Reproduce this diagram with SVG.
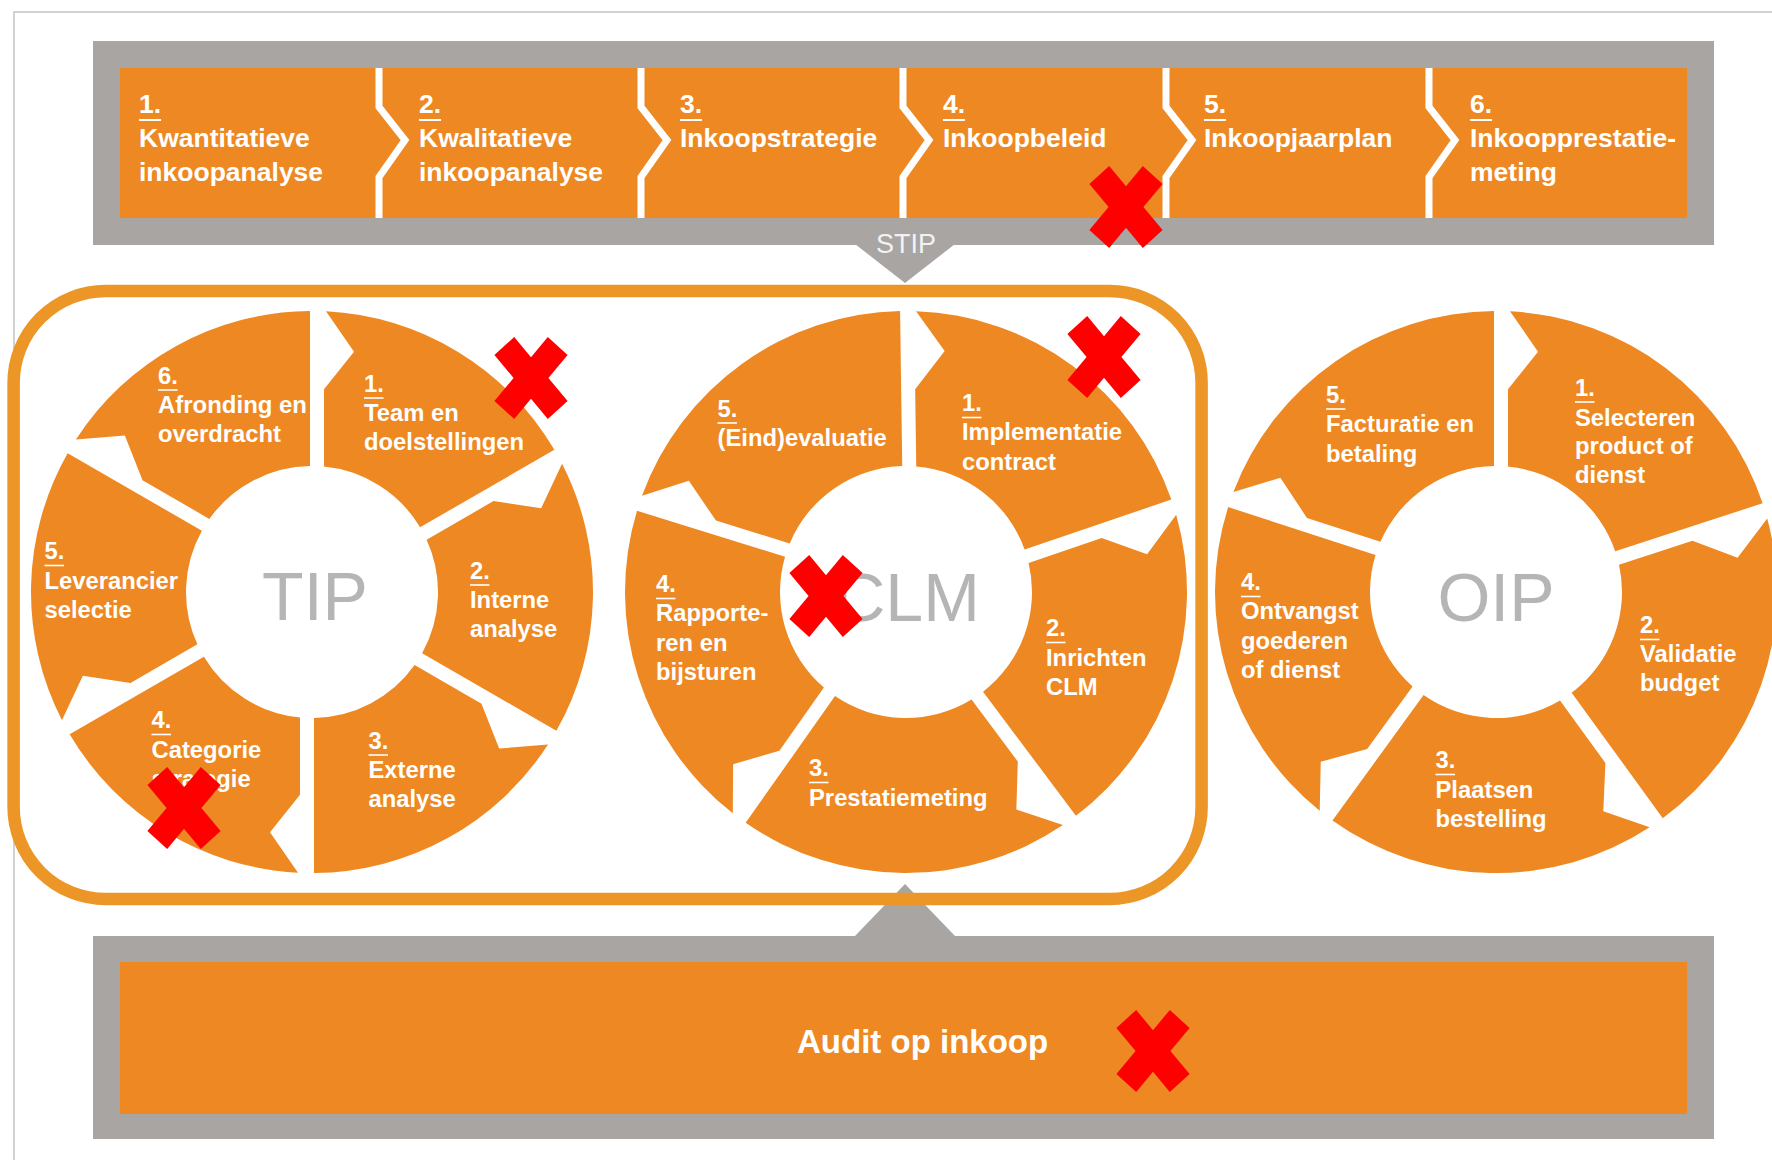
<svg xmlns="http://www.w3.org/2000/svg" width="1772" height="1160" viewBox="0 0 1772 1160">
<style>
.seg{fill:#EE8822}
.band{fill:#A8A5A3}
.orange{fill:#EE8822}
.lbl{font-family:"Liberation Sans",Arial,Helvetica,sans-serif;font-weight:bold;font-size:23.8px;fill:#FFFFFF}
.top{font-size:26.5px}
.ul{stroke:#FFFFFF;stroke-width:1.6}
.ulT{stroke:#FFFFFF;stroke-width:2}
.ctr{font-family:"Liberation Sans",Arial,Helvetica,sans-serif;font-size:68px;fill:#B5B5B5;text-anchor:middle}
.sep{fill:none;stroke:#FFFFFF;stroke-width:7;stroke-linejoin:miter}
.xm{fill:#FF0000}
</style>
<defs>
<path id="s60" d="M12,-125.43 L12,-202.65 L42,-240.36 L14,-280.65 A281,281 0 0 1 242.35,-142.23 L108.11,-64.72 A126,126 0 0 0 12,-125.43 Z"/>
<path id="s72" d="M12,-125.43 L12,-202.65 L42,-240.36 L14,-280.65 A281,281 0 0 1 266.62,-88.73 L119.20,-40.83 A126,126 0 0 0 12,-125.43 Z"/>
<path id="xm" d="M-36.6,-23 L-16.8,-41 L0,-20.8 L16.8,-41 L36.6,-23 L17.4,0 L36.6,23 L16.8,41 L0,20.8 L-16.8,41 L-36.6,23 L-17.4,0 Z"/>
</defs>
<rect width="1772" height="1160" fill="#FFFFFF"/>
<path d="M14,1160 L14,12 L1772,12" fill="none" stroke="#C4C4C4" stroke-width="1.5"/>

<g id="connectors">
<polygon class="band" points="855,244 955,244 905,283"/>
<polygon class="band" points="855,936 955,936 905,884"/>
</g>

<g id="stip">
<rect class="band" x="93" y="41" width="1621" height="204"/>
<rect class="orange" x="120" y="68" width="1567" height="150"/>
<polyline class="sep" points="379,68 379,107 405,140 379,177 379,218"/>
<polyline class="sep" points="641,68 641,107 667,140 641,177 641,218"/>
<polyline class="sep" points="903,68 903,107 929,140 903,177 903,218"/>
<polyline class="sep" points="1166,68 1166,107 1192,140 1166,177 1166,218"/>
<polyline class="sep" points="1429,68 1429,107 1455,140 1429,177 1429,218"/>
<text x="906" y="253" font-family="Liberation Sans, Arial, sans-serif" font-size="27" fill="#F2F2F2" text-anchor="middle">STIP</text>
</g>

<g id="stip-1"><text class="lbl top"><tspan x="139" y="113">1.</tspan><tspan x="139" y="147">Kwantitatieve</tspan><tspan x="139" y="181">inkoopanalyse</tspan></text><line class="ulT" x1="139" y1="120" x2="161" y2="120"/></g>
<g id="stip-2"><text class="lbl top"><tspan x="419" y="113">2.</tspan><tspan x="419" y="147">Kwalitatieve</tspan><tspan x="419" y="181">inkoopanalyse</tspan></text><line class="ulT" x1="419" y1="120" x2="441" y2="120"/></g>
<g id="stip-3"><text class="lbl top"><tspan x="680" y="113">3.</tspan><tspan x="680" y="147">Inkoopstrategie</tspan></text><line class="ulT" x1="680" y1="120" x2="702" y2="120"/></g>
<g id="stip-4"><text class="lbl top"><tspan x="943" y="113">4.</tspan><tspan x="943" y="147">Inkoopbeleid</tspan></text><line class="ulT" x1="943" y1="120" x2="965" y2="120"/></g>
<g id="stip-5"><text class="lbl top"><tspan x="1204" y="113">5.</tspan><tspan x="1204" y="147">Inkoopjaarplan</tspan></text><line class="ulT" x1="1204" y1="120" x2="1226" y2="120"/></g>
<g id="stip-6"><text class="lbl top"><tspan x="1470" y="113">6.</tspan><tspan x="1470" y="147">Inkoopprestatie-</tspan><tspan x="1470" y="181">meting</tspan></text><line class="ulT" x1="1470" y1="120" x2="1492" y2="120"/></g>

<g id="audit">
<rect class="band" x="93" y="936" width="1621" height="203"/>
<rect class="orange" x="120" y="962" width="1567" height="152"/>
<text x="797" y="1053" font-family="Liberation Sans, Arial, sans-serif" font-weight="bold" font-size="33" fill="#FFFFFF">Audit op inkoop</text>
</g>

<rect id="tactical-frame" x="13.6" y="291" width="1188" height="608" rx="92" ry="92" fill="none" stroke="#EB9627" stroke-width="12.5"/>

<g id="tip">
<text class="ctr" x="315" y="620">TIP</text>
<g id="tip-1"><use href="#s60" class="seg" transform="translate(312,592) rotate(0)"/><text class="lbl"><tspan x="364" y="391.5">1.</tspan><tspan x="364" y="420.5">Team en</tspan><tspan x="364" y="449.5">doelstellingen</tspan></text><line class="ul" x1="364" y1="398" x2="383.5" y2="398"/></g>
<g id="tip-2"><use href="#s60" class="seg" transform="translate(312,592) rotate(60)"/><text class="lbl"><tspan x="470" y="578.5">2.</tspan><tspan x="470" y="608">Interne</tspan><tspan x="470" y="637">analyse</tspan></text><line class="ul" x1="470" y1="585" x2="489.5" y2="585"/></g>
<g id="tip-3"><use href="#s60" class="seg" transform="translate(312,592) rotate(120)"/><text class="lbl"><tspan x="368.5" y="748.5">3.</tspan><tspan x="368.5" y="777.5">Externe</tspan><tspan x="368.5" y="807">analyse</tspan></text><line class="ul" x1="368.5" y1="755" x2="388" y2="755"/></g>
<g id="tip-4"><use href="#s60" class="seg" transform="translate(312,592) rotate(180)"/><text class="lbl"><tspan x="151.5" y="728">4.</tspan><tspan x="151.5" y="757.5">Categorie</tspan><tspan x="151.5" y="787">strategie</tspan></text><line class="ul" x1="151.5" y1="734.5" x2="171" y2="734.5"/></g>
<g id="tip-5"><use href="#s60" class="seg" transform="translate(312,592) rotate(240)"/><text class="lbl"><tspan x="44.5" y="559">5.</tspan><tspan x="44.5" y="588.5">Leverancier</tspan><tspan x="44.5" y="618">selectie</tspan></text><line class="ul" x1="44.5" y1="565.5" x2="64" y2="565.5"/></g>
<g id="tip-6"><use href="#s60" class="seg" transform="translate(312,592) rotate(300)"/><text class="lbl"><tspan x="158" y="383.5">6.</tspan><tspan x="158" y="412.5" textLength="149" lengthAdjust="spacingAndGlyphs">Afronding en</tspan><tspan x="158" y="442">overdracht</tspan></text><line class="ul" x1="158" y1="390" x2="177.5" y2="390"/></g>
</g>

<g id="clm">
<text class="ctr" x="908" y="621">CLM</text>
<g id="clm-1"><use href="#s72" class="seg" transform="translate(906,592) rotate(-0.8)"/><text class="lbl"><tspan x="962" y="411">1.</tspan><tspan x="962" y="440">Implementatie</tspan><tspan x="962" y="470">contract</tspan></text><line class="ul" x1="962" y1="417.5" x2="981.5" y2="417.5"/></g>
<g id="clm-2"><use href="#s72" class="seg" transform="translate(906,592) rotate(71.2)"/><text class="lbl"><tspan x="1046" y="636">2.</tspan><tspan x="1046" y="665.5">Inrichten</tspan><tspan x="1046" y="695">CLM</tspan></text><line class="ul" x1="1046" y1="642.5" x2="1065.5" y2="642.5"/></g>
<g id="clm-3"><use href="#s72" class="seg" transform="translate(906,592) rotate(143.2)"/><text class="lbl"><tspan x="809" y="776">3.</tspan><tspan x="809" y="806">Prestatiemeting</tspan></text><line class="ul" x1="809" y1="782.5" x2="828.5" y2="782.5"/></g>
<g id="clm-4"><use href="#s72" class="seg" transform="translate(906,592) rotate(215.2)"/><text class="lbl"><tspan x="656" y="592">4.</tspan><tspan x="656" y="621">Rapporte-</tspan><tspan x="656" y="650.5">ren en</tspan><tspan x="656" y="679.5">bijsturen</tspan></text><line class="ul" x1="656" y1="598.5" x2="675.5" y2="598.5"/></g>
<g id="clm-5"><use href="#s72" class="seg" transform="translate(906,592) rotate(287.2)"/><text class="lbl"><tspan x="717.5" y="416.5">5.</tspan><tspan x="717.5" y="446">(Eind)evaluatie</tspan></text><line class="ul" x1="717.5" y1="423" x2="737" y2="423"/></g>
</g>

<g id="oip">
<text class="ctr" x="1496" y="621">OIP</text>
<g id="oip-1"><use href="#s72" class="seg" transform="translate(1496,592) rotate(0)"/><text class="lbl"><tspan x="1575" y="395.5">1.</tspan><tspan x="1575" y="425.5">Selecteren</tspan><tspan x="1575" y="454">product of</tspan><tspan x="1575" y="483">dienst</tspan></text><line class="ul" x1="1575" y1="402" x2="1594.5" y2="402"/></g>
<g id="oip-2"><use href="#s72" class="seg" transform="translate(1496,592) rotate(72)"/><text class="lbl"><tspan x="1640" y="633">2.</tspan><tspan x="1640" y="662">Validatie</tspan><tspan x="1640" y="690.5">budget</tspan></text><line class="ul" x1="1640" y1="639.5" x2="1659.5" y2="639.5"/></g>
<g id="oip-3"><use href="#s72" class="seg" transform="translate(1496,592) rotate(144)"/><text class="lbl"><tspan x="1435.5" y="768">3.</tspan><tspan x="1435.5" y="798">Plaatsen</tspan><tspan x="1435.5" y="827">bestelling</tspan></text><line class="ul" x1="1435.5" y1="774.5" x2="1455" y2="774.5"/></g>
<g id="oip-4"><use href="#s72" class="seg" transform="translate(1496,592) rotate(216)"/><text class="lbl"><tspan x="1241" y="590">4.</tspan><tspan x="1241" y="619">Ontvangst</tspan><tspan x="1241" y="649">goederen</tspan><tspan x="1241" y="677.5">of dienst</tspan></text><line class="ul" x1="1241" y1="596.5" x2="1260.5" y2="596.5"/></g>
<g id="oip-5"><use href="#s72" class="seg" transform="translate(1496,592) rotate(288)"/><text class="lbl"><tspan x="1326" y="402.5">5.</tspan><tspan x="1326" y="432">Facturatie en</tspan><tspan x="1326" y="462">betaling</tspan></text><line class="ul" x1="1326" y1="409" x2="1345.5" y2="409"/></g>
</g>

<g id="marks">
<use href="#xm" class="xm" transform="translate(1126,207)"/>
<use href="#xm" class="xm" transform="translate(531,378)"/>
<use href="#xm" class="xm" transform="translate(184,808)"/>
<use href="#xm" class="xm" transform="translate(1104,357)"/>
<use href="#xm" class="xm" transform="translate(826,596)"/>
<use href="#xm" class="xm" transform="translate(1153,1051)"/>
</g>
</svg>
